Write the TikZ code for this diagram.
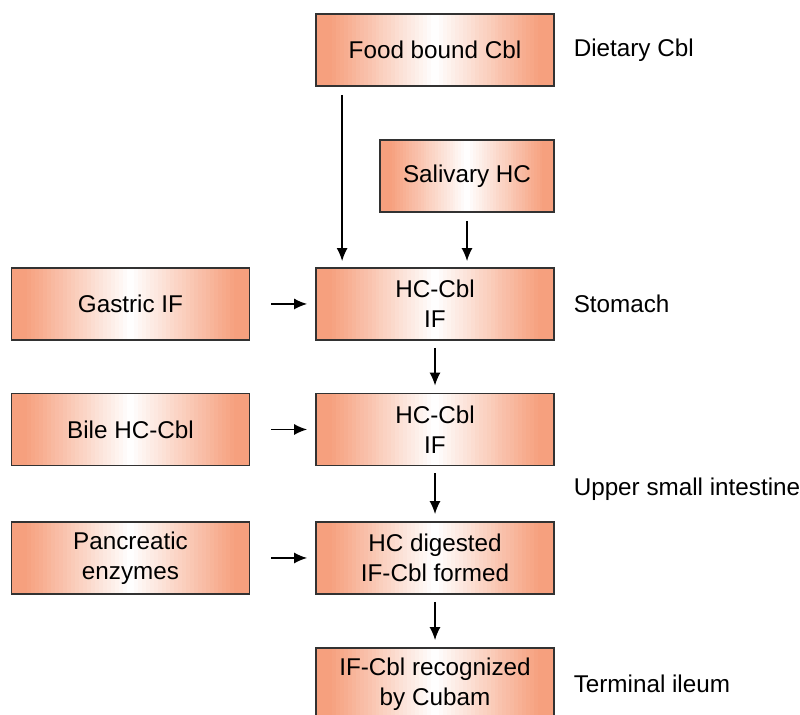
\documentclass[tikz,border=0pt]{standalone}
\usepackage{fontspec}
\setmainfont{Liberation Sans}
\usetikzlibrary{arrows.meta}
\definecolor{boxfill}{RGB}{246,160,126}
\definecolor{boxline}{RGB}{50,50,50}
% horizontal fade: orange edges, white middle (centre x, centre y, width)
\newcommand\stagefill[3]{\foreach \i in {0,...,59}{%
  \pgfmathtruncatemacro\p{min(100,abs((\i+0.5)/60-0.5)*2*115)}%
  \pgfmathsetmacro\xa{#1-#3/2+\i*#3/60}%
  \pgfmathsetmacro\xb{min(#1+#3/2,#1-#3/2+(\i+1.4)*#3/60)}%
  \fill[boxfill!\p!white] (\xa,#2-0.72) rectangle (\xb,#2+0.72);}}

\begin{document}
\begin{tikzpicture}[>={Latex[length=0.26cm,width=0.22cm]}, line width=0.85pt,
  stage/.style={draw=boxline, line width=1pt, minimum width=4.76cm, minimum height=1.44cm,
    align=center, font=\fontsize{13.8}{17}\selectfont, inner sep=2pt},
  site/.style={anchor=west, inner sep=0pt, font=\fontsize{13.8}{17}\selectfont}]
\useasboundingbox (0,0) rectangle (16,14.3);

\stagefill{8.70}{13.30}{4.76}
\stagefill{9.34}{10.78}{3.48}
\stagefill{2.61}{8.22}{4.76}
\stagefill{8.70}{8.22}{4.76}
\stagefill{2.61}{5.71}{4.76}
\stagefill{8.70}{5.71}{4.76}
\stagefill{2.61}{3.14}{4.76}
\stagefill{8.70}{3.14}{4.76}
\stagefill{8.70}{0.62}{4.76}

\node[stage] (food) at (8.70, 13.30){Food bound Cbl};
\node[stage, minimum width=3.48cm] (saliv) at (9.34, 10.78){Salivary HC};

\node[stage] (gastric) at (2.61, 8.22){Gastric IF};
\node[stage] (stom) at (8.70, 8.22){HC-Cbl\\IF};

\node[stage] (bile) at (2.61, 5.71){Bile HC-Cbl};
\node[stage] (duod) at (8.70, 5.71){HC-Cbl\\IF};

\node[stage] (pancr) at (2.61, 3.14){Pancreatic\\enzymes};
\node[stage] (digest) at (8.70, 3.14){HC digested\\IF-Cbl formed};

\node[stage] (cubam) at (8.70, 0.62){IF-Cbl recognized\\by Cubam};

\node[site] (dietary) at (11.46, 13.30){Dietary Cbl};
\node[site] (stomach) at (11.46, 8.22){Stomach};
\node[site] (upper) at (11.46, 4.52){Upper small intestine};
\node[site] (ileum) at (11.46, 0.62){Terminal ileum};

% into the stomach
\draw [->, shorten <=0.16cm, shorten >=0.12cm] ([xshift=0.54cm]food.south west)--([xshift=0.54cm]stom.north west);
\draw [->, shorten <=0.16cm, shorten >=0.12cm] (saliv.south)--(saliv.south |- stom.north);
\draw [->, shorten <=0.42cm, shorten >=0.16cm] (gastric)--(stom);

% down the gut
\draw [->, shorten <=0.14cm, shorten >=0.14cm] (stom)--(duod);
\draw [->, shorten <=0.42cm, shorten >=0.16cm] (bile)--(duod);
\draw [->, shorten <=0.14cm, shorten >=0.14cm] (duod)--(digest);
\draw [->, shorten <=0.42cm, shorten >=0.16cm] (pancr)--(digest);
\draw [->, shorten <=0.14cm, shorten >=0.14cm] (digest)--(cubam);
\end{tikzpicture}
\end{document}
